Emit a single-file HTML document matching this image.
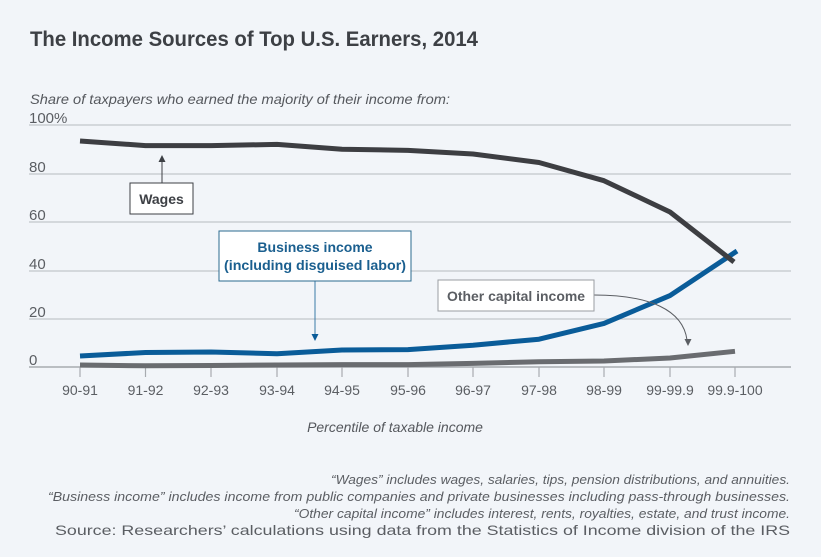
<!DOCTYPE html>
<html><head><meta charset="utf-8"><style>
html,body{margin:0;padding:0;background:#f2f5f9;}
svg{display:block;font-family:"Liberation Sans",sans-serif;}
</style></head><body>
<svg width="821" height="557" viewBox="0 0 821 557" xmlns="http://www.w3.org/2000/svg">
<rect width="821" height="557" fill="#f2f5f9"/>
<text x="30" y="46" font-size="21" font-weight="bold" fill="#3d4045" textLength="448" lengthAdjust="spacingAndGlyphs">The Income Sources of Top U.S. Earners, 2014</text>
<text x="30" y="104" font-size="14" font-style="italic" fill="#55585d" textLength="420" lengthAdjust="spacingAndGlyphs">Share of taxpayers who earned the majority of their income from:</text>
<g stroke="#c3c6cb" stroke-width="1.2">
<line x1="29" y1="125" x2="791" y2="125"/>
<line x1="29" y1="174" x2="791" y2="174"/>
<line x1="29" y1="222" x2="791" y2="222"/>
<line x1="29" y1="271" x2="791" y2="271"/>
<line x1="29" y1="319" x2="791" y2="319"/>
</g>
<line x1="29" y1="367" x2="791" y2="367" stroke="#a8abb0" stroke-width="1.5"/>
<g font-size="15" fill="#5b5e63">
<text x="29" y="123">100%</text>
<text x="29" y="172">80</text>
<text x="29" y="220">60</text>
<text x="29" y="269">40</text>
<text x="29" y="317">20</text>
<text x="29" y="365">0</text>
</g>
<g stroke="#a8abb0" stroke-width="1.2">
<line x1="80" y1="367" x2="80" y2="377"/><line x1="145.5" y1="367" x2="145.5" y2="377"/><line x1="211" y1="367" x2="211" y2="377"/><line x1="277" y1="367" x2="277" y2="377"/><line x1="342" y1="367" x2="342" y2="377"/><line x1="408" y1="367" x2="408" y2="377"/><line x1="473" y1="367" x2="473" y2="377"/><line x1="539" y1="367" x2="539" y2="377"/><line x1="604" y1="367" x2="604" y2="377"/><line x1="670" y1="367" x2="670" y2="377"/><line x1="735" y1="367" x2="735" y2="377"/>
</g>
<g font-size="14" fill="#5b5e63" text-anchor="middle">
<text x="80" y="395">90-91</text><text x="145.5" y="395">91-92</text><text x="211" y="395">92-93</text><text x="277" y="395">93-94</text><text x="342" y="395">94-95</text><text x="408" y="395">95-96</text><text x="473" y="395">96-97</text><text x="539" y="395">97-98</text><text x="604" y="395">98-99</text><text x="670" y="395">99-99.9</text><text x="735" y="395">99.9-100</text>
</g>
<text x="395" y="432" font-size="14" font-style="italic" fill="#55585d" text-anchor="middle">Percentile of taxable income</text>
<polyline fill="none" stroke="#6a6c70" stroke-width="5" stroke-linejoin="round" points="80,365 145.5,365.8 211,365.5 277,365 342,364.6 408,364.6 473,363.4 539,361.7 604,361 670,358 735,351.3"/>
<polyline fill="none" stroke="#0a5c99" stroke-width="5" stroke-linejoin="round" points="80,356 145.5,352.5 211,352 277,353.7 342,350 408,349.6 473,345.2 539,339.2 604,323.4 670,295.6 737,251"/>
<polyline fill="none" stroke="#3d3e42" stroke-width="5" stroke-linejoin="round" points="80,141 145.5,145.6 211,145.6 277,144.4 342,149.2 408,150.4 473,154 539,162.5 604,180.7 670,212 734,262"/>
<line x1="162" y1="183" x2="162" y2="160" stroke="#3d4045" stroke-width="1"/>
<polygon points="162,155 158.5,162 165.5,162" fill="#3d4045"/>
<rect x="130" y="183" width="63" height="31" fill="#fff" stroke="#3d4045" stroke-width="1"/>
<text x="161.5" y="204" font-size="14" font-weight="bold" fill="#3d4045" text-anchor="middle">Wages</text>
<line x1="315" y1="281" x2="315" y2="335" stroke="#3b7aa8" stroke-width="1"/>
<polygon points="315,341 311.5,334 318.5,334" fill="#0a5c99"/>
<rect x="219" y="231" width="192" height="50" fill="#fff" stroke="#2b6a8f" stroke-width="1"/>
<text x="315" y="252" font-size="14" font-weight="bold" fill="#1a5f8f" text-anchor="middle">Business income</text>
<text x="315" y="270" font-size="14" font-weight="bold" fill="#1a5f8f" text-anchor="middle" textLength="182" lengthAdjust="spacingAndGlyphs">(including disguised labor)</text>
<path d="M594,295 C650,295 683,310 687,340" fill="none" stroke="#5b5e63" stroke-width="1"/>
<polygon points="688,346 684.5,339 691.5,339" fill="#5b5e63"/>
<rect x="438" y="280" width="156" height="31" fill="#fff" stroke="#9a9da2" stroke-width="1"/>
<text x="516" y="301" font-size="14" font-weight="bold" fill="#5b5e63" text-anchor="middle" textLength="138" lengthAdjust="spacingAndGlyphs">Other capital income</text>
<g font-size="13" fill="#5b5e63" text-anchor="end">
<text x="790" y="484" font-style="italic" textLength="459" lengthAdjust="spacingAndGlyphs">“Wages” includes wages, salaries, tips, pension distributions, and annuities.</text>
<text x="790" y="501" font-style="italic" textLength="742" lengthAdjust="spacingAndGlyphs">“Business income” includes income from public companies and private businesses including pass-through businesses.</text>
<text x="790" y="518" font-style="italic" textLength="496" lengthAdjust="spacingAndGlyphs">“Other capital income” includes interest, rents, royalties, estate, and trust income.</text>
<text x="790" y="535" font-size="14" textLength="735" lengthAdjust="spacingAndGlyphs">Source: Researchers’ calculations using data from the Statistics of Income division of the IRS</text>
</g>
</svg>
</body></html>
